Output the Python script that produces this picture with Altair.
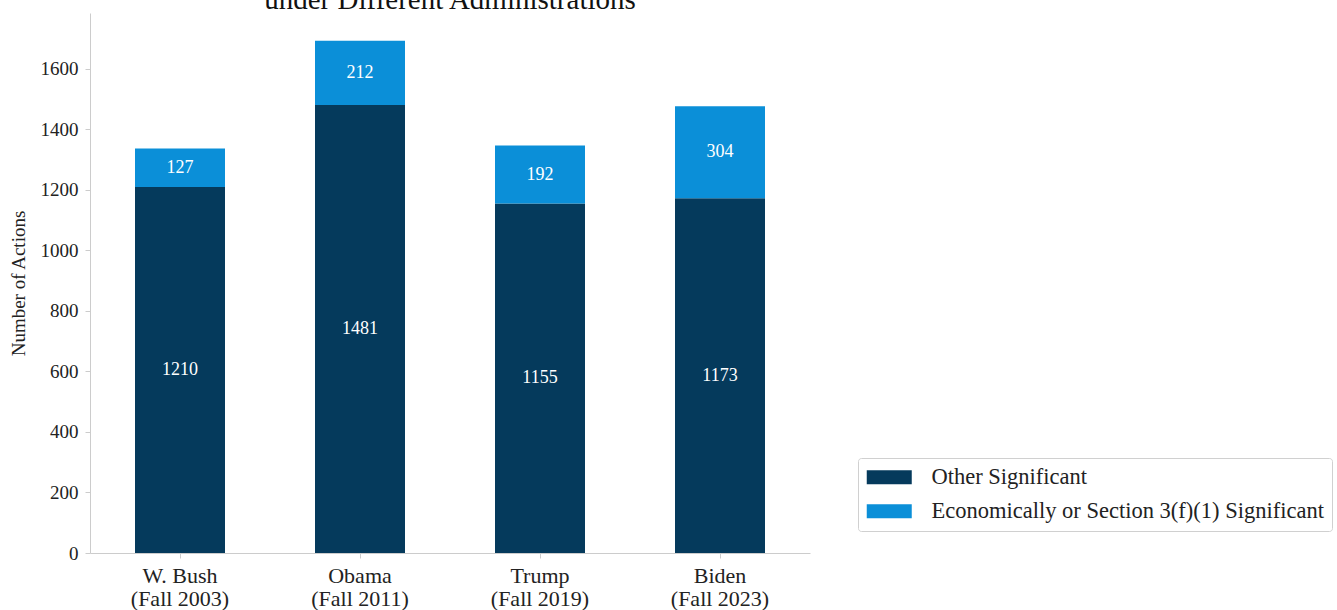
import altair as alt
import pandas as pd

# Significant regulatory actions in the Unified Agenda, by administration
administrations = ["W. Bush\n(Fall 2003)", "Obama\n(Fall 2011)", "Trump\n(Fall 2019)", "Biden\n(Fall 2023)"]
other_significant = [1210, 1481, 1155, 1173]
economically_significant = [127, 212, 192, 304]

series_names = ["Other Significant", "Economically or Section 3(f)(1) Significant"]
series_colors = ["#053a5c", "#0b8fd8"]
y_ticks = [0, 200, 400, 600, 800, 1000, 1200, 1400, 1600]

rows = []
for adm, o, e in zip(administrations, other_significant, economically_significant):
    rows.append({"admin": adm, "series": series_names[0], "order": 0, "value": o})
    rows.append({"admin": adm, "series": series_names[1], "order": 1, "value": e})
df = pd.DataFrame(rows)

FONT = "Liberation Serif"
TEXT = "#222222"
SPINE = "#cccccc"

base = alt.Chart(df).transform_stack(
    stack="value",
    groupby=["admin"],
    sort=[alt.SortField("order", order="ascending")],
    as_=["y0", "y1"],
).transform_calculate(mid="(datum.y0 + datum.y1) / 2")

x_enc = alt.X(
    "admin:N",
    sort=administrations,
    scale=alt.Scale(paddingInner=0.5, paddingOuter=0.25),
    axis=alt.Axis(
        title=None,
        labelAngle=0,
        labelExpr="split(datum.value, '\\n')",
        labelFont=FONT,
        labelFontSize=22,
        labelColor=TEXT,
        labelLineHeight=23,
        labelPadding=7,
        tickSize=5,
        tickColor=SPINE,
        domainColor=SPINE,
    ),
)

y_scale = alt.Scale(domain=[0, 1785], nice=False)

bars = base.mark_bar().encode(
    x=x_enc,
    y=alt.Y(
        "y0:Q",
        scale=y_scale,
        axis=alt.Axis(
            title="Number of Actions",
            titleFont=FONT,
            titleFontSize=19,
            titleFontWeight="normal",
            titleColor=TEXT,
            titlePadding=12,
            values=y_ticks,
            format="d",
            labelFont=FONT,
            labelFontSize=19,
            labelColor=TEXT,
            labelPadding=7,
            tickSize=5,
            tickColor=SPINE,
            domainColor=SPINE,
            grid=False,
        ),
    ),
    y2="y1:Q",
    color=alt.Color(
        "series:N",
        scale=alt.Scale(domain=series_names, range=series_colors),
        legend=alt.Legend(
            title=None,
            orient="none",
            legendX=768,
            legendY=445,
            symbolType="M-2.25,-0.7H2.25V0.7H-2.25Z",
            symbolSize=400,
            symbolStrokeWidth=0,
            symbolOpacity=1,
            symbolOffset=12,
            labelOffset=31,
            labelFont=FONT,
            labelFontSize=22.5,
            labelColor=TEXT,
            labelLimit=0,
            rowPadding=11,
            padding=8,
            strokeColor="#d0d0d0",
            cornerRadius=3,
            fillColor="white",
        ),
    ),
    order=alt.Order("order:Q"),
)

labels = base.mark_text(
    color="white", font=FONT, fontSize=18, baseline="middle", align="center"
).encode(
    x=alt.X("admin:N", sort=administrations),
    y=alt.Y("mid:Q", scale=y_scale),
    text=alt.Text("value:Q"),
)

title = alt.Chart(pd.DataFrame({"t": ["under Different Administrations"]})).mark_text(
    font=FONT, fontSize=29, color="#111111", baseline="alphabetic", align="center"
).encode(
    text="t:N",
    x=alt.value(360),
    y=alt.value(-4),
)

chart = alt.layer(bars, labels, title).properties(
    width=720,
    height=540,
    background="white",
    padding={"left": 90, "top": 13, "right": 527, "bottom": 57},
    autosize=alt.AutoSizeParams(type="none"),
).configure_view(strokeWidth=0, stroke=None)

chart.save("out.html", embed_options={"renderer": "svg", "actions": False})
